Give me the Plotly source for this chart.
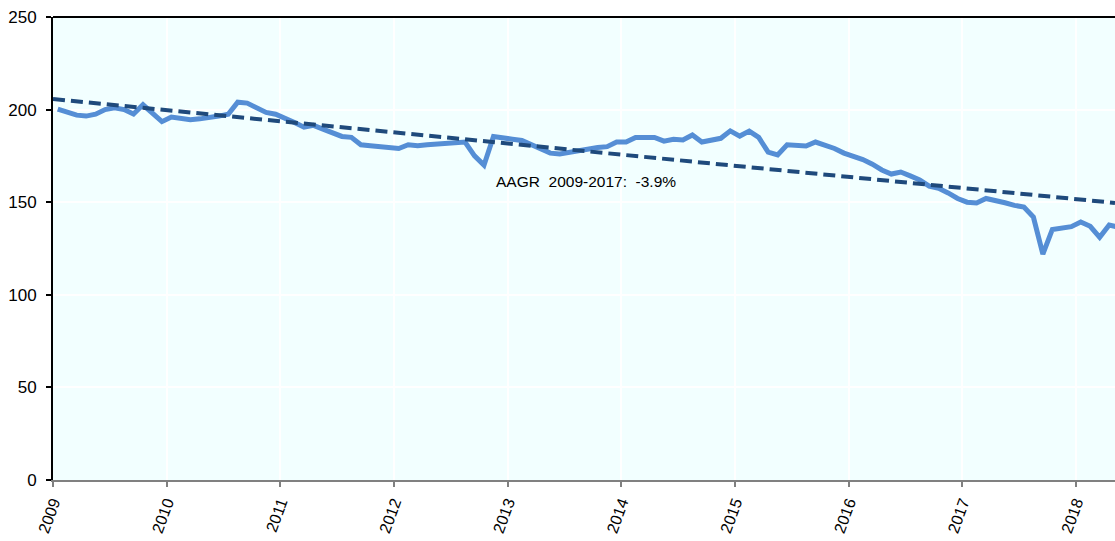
import plotly.graph_objects as go

# Monthly values (mid-month), Jan 2009 onwards
values = [
    200.3, 198.5, 197, 196.5, 197.5, 200, 201, 200, 197.6, 202.6, 198, 193.5,        # 2009
    196, 195.5, 194.5, 195, 195.5, 196.5, 197.5, 204, 203.5, 201, 198.5, 197.5,      # 2010
    195.5, 193, 190.5, 191.5, 189.5, 187.5, 185.5, 185, 181, 180.5, 180, 179.5,      # 2011
    179, 181, 180.5, 181, 181.5, 182, 182.3, 182.5, 175, 170, 185.5, 184.5,          # 2012
    184, 183.3, 181, 178.5, 176.5, 176, 177, 178, 178.8, 179.5, 180, 182.5,          # 2013
    182.5, 185, 185, 185, 183, 184, 183.6, 186.3, 182.5, 183.5, 184.5, 188.5,        # 2014
    185.7, 188.4, 185, 177, 175.5, 181, 180.5, 180.3, 182.5, 181, 179, 176.5,        # 2015
    175, 173, 170.5, 167.4, 165.2, 166.3, 164.2, 162, 158.7, 157.5, 155, 152,        # 2016
    150, 149.6, 152, 150.5, 149.7, 148.3, 147.4, 142, 122, 135.3, 136, 136.8,        # 2017
    139.3, 137, 131, 137.7, 136.5,                                                   # 2018
]
start_year = 2009
x_vals = [start_year + (i + 0.5) / 12 for i in range(len(values))]

# Trend line end points
trend_x = [2009.0, 2018.343]
trend_y = [205.7, 149.6]

year_ticks = list(range(2009, 2019))
year_labels = [str(y) for y in year_ticks]
y_ticks = [0, 50, 100, 150, 200, 250]

annotation_text = "AAGR\u00a0 2009-2017:\u00a0 -3.9%"

fig = go.Figure()
fig.add_trace(go.Scatter(
    x=x_vals, y=values, mode="lines",
    line=dict(color="#558ED5", width=5),
    showlegend=False, hoverinfo="skip"))
fig.add_trace(go.Scatter(
    x=trend_x, y=trend_y, mode="lines",
    line=dict(color="#1F4A7C", width=4, dash="12px,6px"),
    showlegend=False, hoverinfo="skip"))

fig.add_annotation(
    x=2012.88, y=161, xref="x", yref="y", text=annotation_text,
    showarrow=False, xanchor="left", yanchor="middle",
    font=dict(family="Liberation Sans Narrow, Arial Narrow, Liberation Sans, Arial", size=15.5, color="#000000"))

# top border
fig.add_shape(type="line", xref="paper", yref="paper", x0=0, x1=1, y0=1, y1=1,
              line=dict(color="#000000", width=2))

fig.update_layout(
    width=1115, height=541,
    margin=dict(l=53, r=0, t=17, b=61),
    paper_bgcolor="#FFFFFF",
    plot_bgcolor="#F2FFFF",
    font=dict(family="Liberation Sans, Arial", size=16, color="#000000"),
    xaxis=dict(
        range=[2009.0, 2018.343],
        tickvals=year_ticks, ticktext=year_labels, tickangle=-70,
        showgrid=True, gridcolor="#FFFFFF", gridwidth=2,
        showline=True, linecolor="#808080", linewidth=2,
        ticks="outside", ticklen=5, tickcolor="#808080", tickwidth=2,
        zeroline=False, tickfont=dict(size=16),
    ),
    yaxis=dict(
        range=[0, 250], tickvals=y_ticks,
        showgrid=True, gridcolor="#FFFFFF", gridwidth=2,
        showline=True, linecolor="#000000", linewidth=2,
        ticks="outside", ticklen=5, tickcolor="#000000", tickwidth=2,
        ticklabelstandoff=6,
        zeroline=False, tickfont=dict(size=17),
    ),
)

post = (
    "document.body.style.margin='0px';"
    "document.body.style.overflow='hidden';"
    "var gd=document.getElementById('{plot_id}');"
    "Plotly.relayout(gd,{width:1115,height:541});"
)

fig.write_html("out.html", post_script=post,
               config={"responsive": False, "displayModeBar": False})
